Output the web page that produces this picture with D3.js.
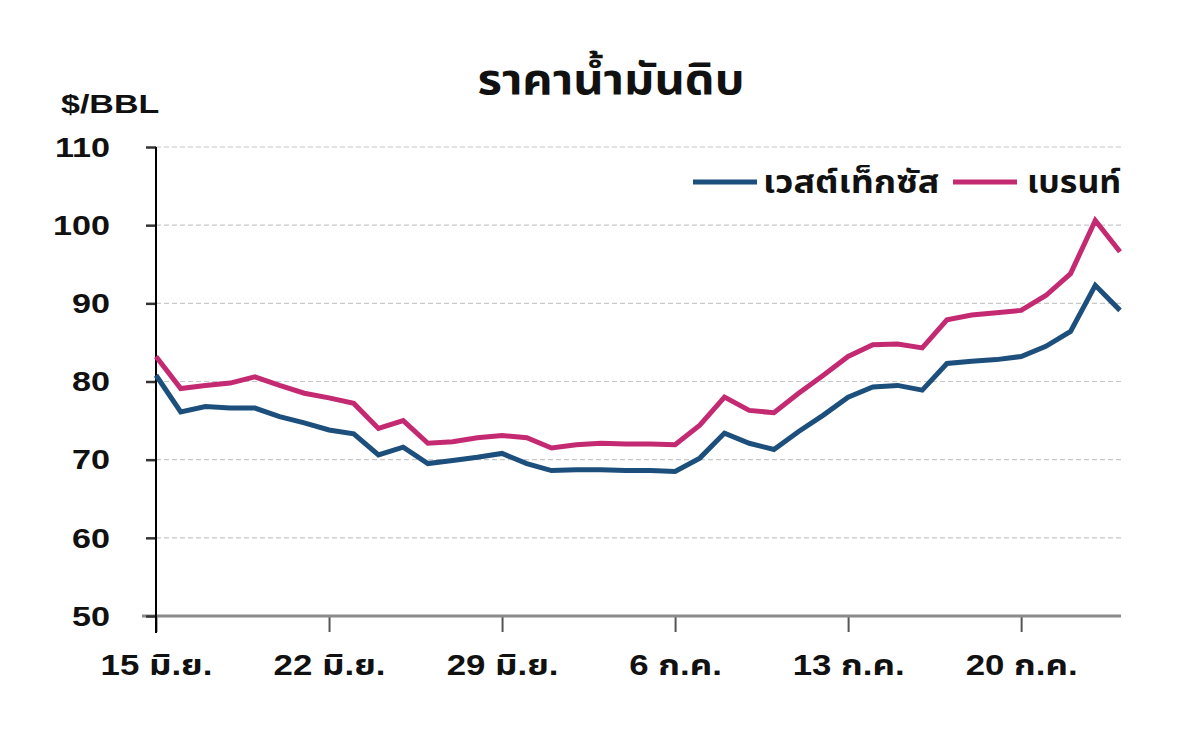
<!DOCTYPE html>
<html>
<head>
<meta charset="utf-8">
<script src="https://cdn.jsdelivr.net/npm/d3@7"></script>
<style>
  html, body { margin: 0; padding: 0; background: #ffffff; }
  svg { display: block; }
  text { font-family: "Liberation Sans", Arial, "Noto Sans Thai", "Noto Sans", sans-serif; font-weight: bold; fill: #111; }
</style>
</head>
<body>
<svg id="chart" width="1200" height="738"></svg>
<script>
// ---- data ----
const startDate = "2008-06-15";
const dayOffsets = d3.range(0, 40);           // daily observations, 15 Jun .. 24 Jul
const wtiValues = [80.8, 76.1, 76.8, 76.6, 76.6, 75.5, 74.7, 73.8, 73.3, 70.6,
                   71.6, 69.5, 69.9, 70.3, 70.8, 69.5, 68.6, 68.7, 68.7, 68.6,
                   68.6, 68.5, 70.2, 73.4, 72.1, 71.3, 73.6, 75.7, 78.0, 79.3,
                   79.5, 78.9, 82.3, 82.6, 82.8, 83.2, 84.5, 86.4, 92.3, 89.1];
const brentValues = [83.2, 79.1, 79.5, 79.8, 80.6, 79.5, 78.5, 77.9, 77.2, 74.0,
                     75.0, 72.1, 72.3, 72.8, 73.1, 72.8, 71.5, 71.9, 72.1, 72.0,
                     72.0, 71.9, 74.4, 78.0, 76.3, 76.0, 78.5, 80.8, 83.2, 84.7,
                     84.8, 84.3, 87.9, 88.5, 88.8, 89.1, 91.0, 93.8, 100.6, 96.6];
const seriesNames = ["เวสต์เท็กซัส", "เบรนท์"];
const seriesColors = ["#1d4f7c", "#c42a72"];
const xTickOffsets = [0, 7, 14, 21, 28, 35];
const xTickLabels = ["15 มิ.ย.", "22 มิ.ย.", "29 มิ.ย.", "6 ก.ค.", "13 ก.ค.", "20 ก.ค."];
const yTicks = [50, 60, 70, 80, 90, 100, 110];
const titleText = "ราคาน้ำมันดิบ";
const unitText = "$/BBL";

// ---- helpers ----
function stretch(sel, factor) {
  sel.each(function () {
    const w = this.getComputedTextLength();
    d3.select(this).attr("textLength", w * factor).attr("lengthAdjust", "spacingAndGlyphs");
  });
}

// ---- layout ----
const svg = d3.select("#chart");
const plot = { left: 156, right: 1120, top: 147, bottom: 616 };
const t0 = d3.utcParse("%Y-%m-%d")(startDate);
const dates = dayOffsets.map(d => d3.utcDay.offset(t0, d));
const tickDates = xTickOffsets.map(d => d3.utcDay.offset(t0, d));

const x = d3.scaleUtc().domain([dates[0], dates[dates.length - 1]]).range([plot.left, plot.right]);
const y = d3.scaleLinear().domain([50, 110]).range([plot.bottom, plot.top]);

// gridlines
svg.append("g")
  .selectAll("line")
  .data(yTicks.filter(v => v > 50))
  .join("line")
  .attr("x1", plot.left).attr("x2", plot.right + 1)
  .attr("y1", d => y(d)).attr("y2", d => y(d))
  .attr("stroke", "#c8c8c8").attr("stroke-width", 1.2)
  .attr("stroke-dasharray", "5,3");

// x axis
const xAxis = d3.axisBottom(x)
  .tickValues(tickDates)
  .tickSize(16)
  .tickPadding(22)
  .tickFormat((d, i) => xTickLabels[i]);
const gx = svg.append("g").attr("transform", `translate(0,${plot.bottom})`).call(xAxis);
gx.select(".domain").remove();
gx.append("line").attr("x1", plot.left - 14).attr("x2", plot.right + 1)
  .attr("y1", 0).attr("y2", 0).attr("stroke", "#8a8a8a").attr("stroke-width", 3);
gx.selectAll(".tick line").attr("stroke", "#555").attr("stroke-width", 2);
const xLabels = gx.selectAll(".tick text").attr("font-size", 29).attr("fill", "#111")
  .style("font-family", '"Liberation Sans", Arial, "Noto Sans Thai", sans-serif');
stretch(xLabels, 1.2);

// y axis
const yAxis = d3.axisLeft(y).tickValues(yTicks).tickSize(10).tickPadding(36);
const gy = svg.append("g").attr("transform", `translate(${plot.left},0)`).call(yAxis);
gy.select(".domain").remove();
gy.append("line").attr("x1", 0).attr("x2", 0).attr("y1", plot.top).attr("y2", plot.bottom + 17)
  .attr("stroke", "#000").attr("stroke-width", 2);
gy.selectAll(".tick line").attr("stroke", "#333").attr("stroke-width", 2.5);
const yLabels = gy.selectAll(".tick text").attr("font-size", 28).attr("fill", "#111").attr("dy", "0.33em")
  .style("font-family", '"Liberation Sans", Arial, sans-serif');
stretch(yLabels, 1.22);

// lines
const line = d3.line().x((d, i) => x(dates[i])).y(d => y(d));
[wtiValues, brentValues].forEach((vals, k) => {
  svg.append("path")
    .datum(vals)
    .attr("d", line)
    .attr("fill", "none")
    .attr("stroke", seriesColors[k])
    .attr("stroke-width", 5)
    .attr("stroke-linejoin", "miter");
});

// title and unit
const title = svg.append("text").attr("x", 611).attr("y", 94).attr("text-anchor", "middle")
  .attr("font-size", 42).text(titleText);
stretch(title, 1.12);
const unit = svg.append("text").attr("x", 61).attr("y", 113).attr("font-size", 25).text(unitText);
stretch(unit, 1.36);

// legend
const legend = svg.append("g");
const legendPos = [{ lx: 693, tx: 763 }, { lx: 953, tx: 1027 }];
seriesNames.forEach((name, k) => {
  legend.append("line")
    .attr("x1", legendPos[k].lx).attr("x2", legendPos[k].lx + 64)
    .attr("y1", 182).attr("y2", 182)
    .attr("stroke", seriesColors[k]).attr("stroke-width", 5);
  const t = legend.append("text").attr("x", legendPos[k].tx).attr("y", 193)
    .attr("font-size", 32).text(name);
  stretch(t, k === 0 ? 1.12 : 1.06);
});
</script>
</body>
</html>
